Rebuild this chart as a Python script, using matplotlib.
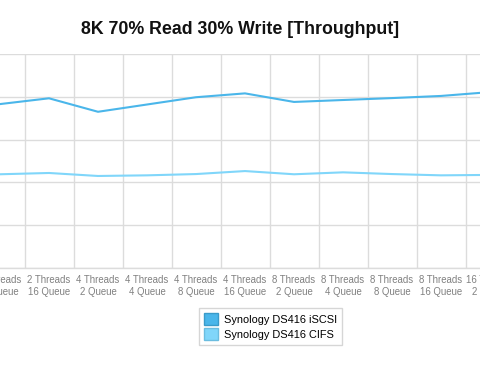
import matplotlib.pyplot as plt
from matplotlib.patches import Patch
from matplotlib.ticker import FixedLocator, MultipleLocator

categories = [
    "2 Threads\n8 Queue",
    "2 Threads\n16 Queue",
    "4 Threads\n2 Queue",
    "4 Threads\n4 Queue",
    "4 Threads\n8 Queue",
    "4 Threads\n16 Queue",
    "8 Threads\n2 Queue",
    "8 Threads\n4 Queue",
    "8 Threads\n8 Queue",
    "8 Threads\n16 Queue",
    "16 Threads\n2 Queue",
]
iscsi = [3830, 3965, 3650, 3820, 3990, 4080, 3880, 3925, 3970, 4020, 4110]
cifs = [2190, 2220, 2150, 2165, 2195, 2265, 2190, 2235, 2195, 2165, 2175]

ISCSI_COLOR = "#4ab6ea"
CIFS_COLOR = "#80d6fa"
GRID = "#dcdcdc"


def plot_chart(save_path="out.png"):
    fig = plt.figure(figsize=(4.8, 3.71), dpi=100)
    plt.rcParams["font.family"] = ["Liberation Sans", "DejaVu Sans"]

    # the plot area runs past both edges of the picture
    W, H = 480, 371
    left_px, right_px = -24.5, 514.5
    top_px, bottom_px = 54, 268
    ax = fig.add_axes([left_px / W, (H - bottom_px) / H,
                       (right_px - left_px) / W, (bottom_px - top_px) / H])

    x = list(range(len(categories)))
    ax.plot(x, iscsi, color=ISCSI_COLOR, lw=1.5, solid_joinstyle="round")
    ax.plot(x, cifs, color=CIFS_COLOR, lw=1.5, solid_joinstyle="round")

    ax.set_xlim(-0.5, len(categories) - 0.5)
    ax.set_ylim(0, 5000)
    ax.yaxis.set_major_locator(MultipleLocator(1000))
    ax.set_xticks(x)
    ax.set_xticklabels(categories, fontsize=6.9, color="#808080", linespacing=1.25)
    ax.xaxis.set_minor_locator(FixedLocator([i - 0.5 for i in range(len(categories) + 1)]))
    ax.tick_params(axis="x", which="both", length=0, pad=5)
    ax.tick_params(axis="y", length=0, labelleft=False)

    ax.grid(True, which="minor", axis="x", color=GRID, lw=1)
    ax.grid(True, which="major", axis="y", color=GRID, lw=1)
    ax.set_axisbelow(True)
    for side in ("left", "right", "top"):
        ax.spines[side].set_visible(False)
    ax.spines["bottom"].set_color(GRID)
    ax.spines["bottom"].set_linewidth(1)

    fig.text(0.5, 1 - 30 / H, "8K 70% Read 30% Write [Throughput]",
             ha="center", va="center", fontsize=12.8, fontweight="bold", color="#111111")

    handles = [
        Patch(facecolor=ISCSI_COLOR, edgecolor="#3a9bc9", label="Synology DS416 iSCSI"),
        Patch(facecolor=CIFS_COLOR, edgecolor="#6bbde0", label="Synology DS416 CIFS"),
    ]
    fig.legend(handles=handles, loc="center", bbox_to_anchor=(270.5 / W, 1 - 326.5 / H),
               fontsize=7.9, frameon=True, fancybox=False, edgecolor="#cccccc",
               handlelength=1.2, handleheight=1.2, handletextpad=0.55,
               borderpad=0.45, labelspacing=0.35, borderaxespad=0)

    fig.savefig(save_path, dpi=100)
    plt.close(fig)


if __name__ == "__main__":
    plot_chart()
